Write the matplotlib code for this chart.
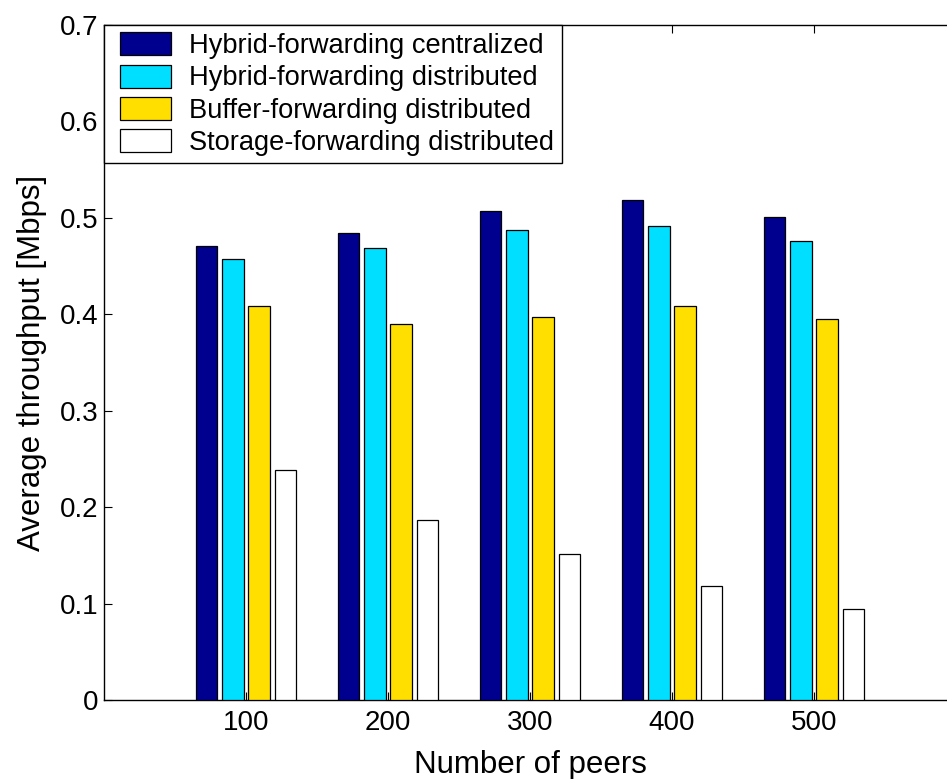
import matplotlib
matplotlib.use("Agg")
import matplotlib.pyplot as plt
from matplotlib.patches import Rectangle
from matplotlib.legend_handler import HandlerPatch
from matplotlib.container import BarContainer
import numpy as np

peers = [100, 200, 300, 400, 500]
series_names = [
    "Hybrid-forwarding centralized",
    "Hybrid-forwarding distributed",
    "Buffer-forwarding distributed",
    "Storage-forwarding distributed",
]
hybrid_central = [0.471, 0.484, 0.507, 0.519, 0.501]
hybrid_dist = [0.457, 0.469, 0.487, 0.492, 0.476]
buffer_dist = [0.409, 0.390, 0.397, 0.409, 0.395]
storage_dist = [0.239, 0.187, 0.151, 0.118, 0.094]
yticks = [0, 0.1, 0.2, 0.3, 0.4, 0.5, 0.6, 0.7]
ytick_labels = ["0", "0.1", "0.2", "0.3", "0.4", "0.5", "0.6", "0.7"]

colors = ["#00008F", "#00DFFF", "#FFDF00", "#FFFFFF"]

plt.rcParams["font.family"] = ["Liberation Sans", "DejaVu Sans"]

fig = plt.figure(figsize=(9.47, 7.79), dpi=100)
ax = fig.add_axes([104 / 947, 79 / 779, 852 / 947, 675 / 779])

all_series = [hybrid_central, hybrid_dist, buffer_dist, storage_dist]
pitch = 18.6
width = 15.2
x = np.array(peers, dtype=float)
for i, (vals, c, name) in enumerate(zip(all_series, colors, series_names)):
    offs = (i - 1.5) * pitch
    ax.bar(x + offs, vals, width=width, color=c, edgecolor="black",
           linewidth=0.9, label=name, zorder=3)

ax.set_xlim(0, 600)
ax.set_ylim(0, 0.7)
ax.set_xticks(peers)
ax.set_xticklabels([str(p) for p in peers])
ax.set_yticks(yticks)
ax.set_yticklabels(ytick_labels)
ax.tick_params(direction="in", length=6, width=0.8, top=True, right=True,
               labelsize=20, colors="black")
ax.tick_params(axis="x", pad=7)
ax.tick_params(axis="y", pad=4)
for s in ax.spines.values():
    s.set_linewidth(1.0)
    s.set_zorder(1)

ax.set_xlabel("Number of peers", fontsize=22.5, labelpad=10)
ax.set_ylabel("Average throughput [Mbps]", fontsize=22.5, labelpad=9)


def inset_swatch(legend, orig_handle, xdescent, ydescent, width, height, fontsize):
    # swatch indented from the legend's left edge
    shift = width * 0.145
    return Rectangle((-xdescent + shift, -ydescent), width - shift, height)


def copy_style(legend_handle, orig_handle):
    first = orig_handle[0] if isinstance(orig_handle, BarContainer) else orig_handle
    legend_handle.update_from(first)


leg = ax.legend(loc="upper left", bbox_to_anchor=(0, 1), borderaxespad=0,
                fontsize=19.6, frameon=True, fancybox=False, framealpha=1,
                edgecolor="black", handlelength=2.2, handleheight=0.92,
                handletextpad=0.66, labelspacing=0.2, borderpad=0.27,
                handler_map={BarContainer:
                             HandlerPatch(patch_func=inset_swatch,
                                          update_func=copy_style)})
leg.get_frame().set_linewidth(1.0)
leg.set_zorder(5)

fig.savefig("out.png", dpi=100)
